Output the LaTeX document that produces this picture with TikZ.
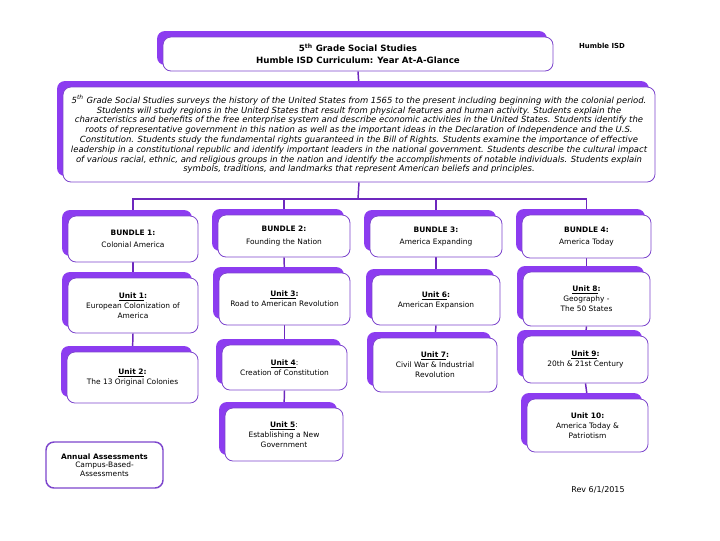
\documentclass[tikz,border=0pt]{standalone}
\usepackage{fontspec}
\setmainfont{DejaVu Sans}
\usepackage{tikz}
\usetikzlibrary{shadows,backgrounds}
\usepackage{xcolor}
\definecolor{shadowviolet}{RGB}{140,60,240}
\definecolor{lineviolet}{RGB}{110,40,190}
\definecolor{edgeviolet}{RGB}{125,70,205}

\begin{document}
\begin{tikzpicture}[x=0.75pt, y=-0.75pt,
    card/.style={draw=edgeviolet, line width=0.6pt, fill=white, rounded corners=6pt, align=center, inner sep=2pt,
        drop shadow={shadow xshift=-4.5pt, shadow yshift=4.5pt, fill=shadowviolet, opacity=1}},
    bundlebox/.style={card, font=\fontsize{5.6pt}{7.6pt}\selectfont},
    unitbox/.style={card, font=\fontsize{5.6pt}{7.6pt}\selectfont},
    link/.style={draw=lineviolet, line width=1.1pt}]
            \useasboundingbox (0,0) rectangle (720,540);
            % header
            \node[card, minimum width=292.5pt, minimum height=25.5pt, font=\bfseries\fontsize{6.5pt}{9pt}\selectfont] (title) at (358,54) {5\textsuperscript{th} Grade Social Studies\\Humble ISD Curriculum: Year At-A-Glance};
            \node[font=\bfseries\fontsize{5.2pt}{6pt}\selectfont] (district) at (602,46) {Humble ISD};
            \node[card, minimum width=444pt, minimum height=71.25pt, font=\itshape\fontsize{6.35pt}{7.35pt}\selectfont] (desc) at (359,134.5) {5\textsuperscript{th} Grade Social Studies surveys the history of the United States from 1565 to the present including beginning with the colonial period.\\
Students will study regions in the United States that result from physical features and human activity. Students explain the\\
characteristics and benefits of the free enterprise system and describe economic activities in the United States. Students identify the\\
roots of representative government in this nation as well as the important ideas in the Declaration of Independence and the U.S.\\
Constitution. Students study the fundamental rights guaranteed in the Bill of Rights. Students examine the importance of effective\\
leadership in a constitutional republic and identify important leaders in the national government. Students describe the cultural impact\\
of various racial, ethnic, and religious groups in the nation and identify the accomplishments of notable individuals. Students explain\\
symbols, traditions, and landmarks that represent American beliefs and principles.};
            % bundles
            \node[bundlebox, minimum width=97.5pt, minimum height=34.5pt] (b1) at (133,239) {\textbf{BUNDLE 1:}\\[1.5pt]Colonial America};
            \node[bundlebox, minimum width=99pt, minimum height=31.5pt] (b2) at (284,236) {\textbf{BUNDLE 2:}\\[1.5pt]Founding the Nation};
            \node[bundlebox, minimum width=99pt, minimum height=30.75pt] (b3) at (436,236.5) {\textbf{BUNDLE 3:}\\[1.5pt]America Expanding};
            \node[bundlebox, minimum width=96.75pt, minimum height=32.25pt] (b4) at (586.5,236.5) {\textbf{BUNDLE 4:}\\[1.5pt]America Today};
            % units
            \node[unitbox, minimum width=97.5pt, minimum height=41.25pt] (u1) at (133,305.5) {\textbf{\underline{Unit 1}:}\\European Colonization of\\America};
            \node[unitbox, minimum width=98.25pt, minimum height=38.25pt] (u2) at (132.5,377.5) {\textbf{\underline{Unit 2}:}\\The 13 Original Colonies};
            \node[unitbox, minimum width=98.25pt, minimum height=39pt] (u3) at (284.5,299) {\textbf{\underline{Unit 3}:}\\Road to American Revolution};
            \node[unitbox, minimum width=93.75pt, minimum height=33.75pt] (u4) at (284.5,367.5) {\textbf{\underline{Unit 4}}:\\Creation of Constitution};
            \node[unitbox, minimum width=88.5pt, minimum height=39.75pt] (u5) at (284,434.5) {\textbf{\underline{Unit 5}}:\\Establishing a New\\Government};
            \node[unitbox, minimum width=96pt, minimum height=37.5pt] (u6) at (436,300) {\textbf{\underline{Unit 6}:}\\American Expansion};
            \node[unitbox, minimum width=93pt, minimum height=40.5pt] (u7) at (435,365) {\textbf{\underline{Unit 7}:}\\Civil War \& Industrial\\Revolution};
            \node[unitbox, minimum width=95.25pt, minimum height=40.5pt] (u8) at (586.5,299) {\textbf{\underline{Unit 8}:}\\Geography -\\The 50 States};
            \node[unitbox, minimum width=93.75pt, minimum height=35.25pt] (u9) at (585.5,359.5) {\textbf{\underline{Unit 9}:}\\20th \& 21st Century};
            \node[unitbox, minimum width=90.75pt, minimum height=39.75pt] (u10) at (587.5,425.5) {\textbf{Unit 10:}\\America Today \&\\Patriotism};
            % footer
            \node[draw=edgeviolet, line width=1.1pt, rounded corners=6pt, align=center, inner sep=2pt, minimum width=87.75pt, minimum height=34.5pt, font=\fontsize{5.6pt}{6.5pt}\selectfont] (annual) at (104.5,465) {\textbf{Annual Assessments}\\Campus-Based-\\Assessments};
            \node[font=\fontsize{6pt}{7pt}\selectfont] (rev) at (598,490) {Rev 6/1/2015};
            % connectors
            \coordinate (bus) at (358,199);
            \begin{scope}[on background layer]
            \fill[white] (0,0) rectangle (720,540);
            \draw[link] (title.south) -- (desc.north);
            \draw[link] (desc.south) -- (bus);
            \draw[link] (bus) -| (b1.north);
            \draw[link] (bus) -| (b2.north);
            \draw[link] (bus) -| (b3.north);
            \draw[link] (bus) -| (b4.north);
            \draw[link] (b1.south) -- (u1.north);
            \draw[link] (u1.south) -- (u2.north);
            \draw[link] (b2.south) -- (u3.north);
            \draw[link] (u3.south) -- (u4.north);
            \draw[link] (u4.south) -- (u5.north);
            \draw[link] (b3.south) -- (u6.north);
            \draw[link] (u6.south) -- (u7.north);
            \draw[link] (b4.south) -- (u8.north);
            \draw[link] (u8.south) -- (u9.north);
            \draw[link] (u9.south) -- (u10.north);
            \end{scope}
        \end{tikzpicture}
\end{document}
